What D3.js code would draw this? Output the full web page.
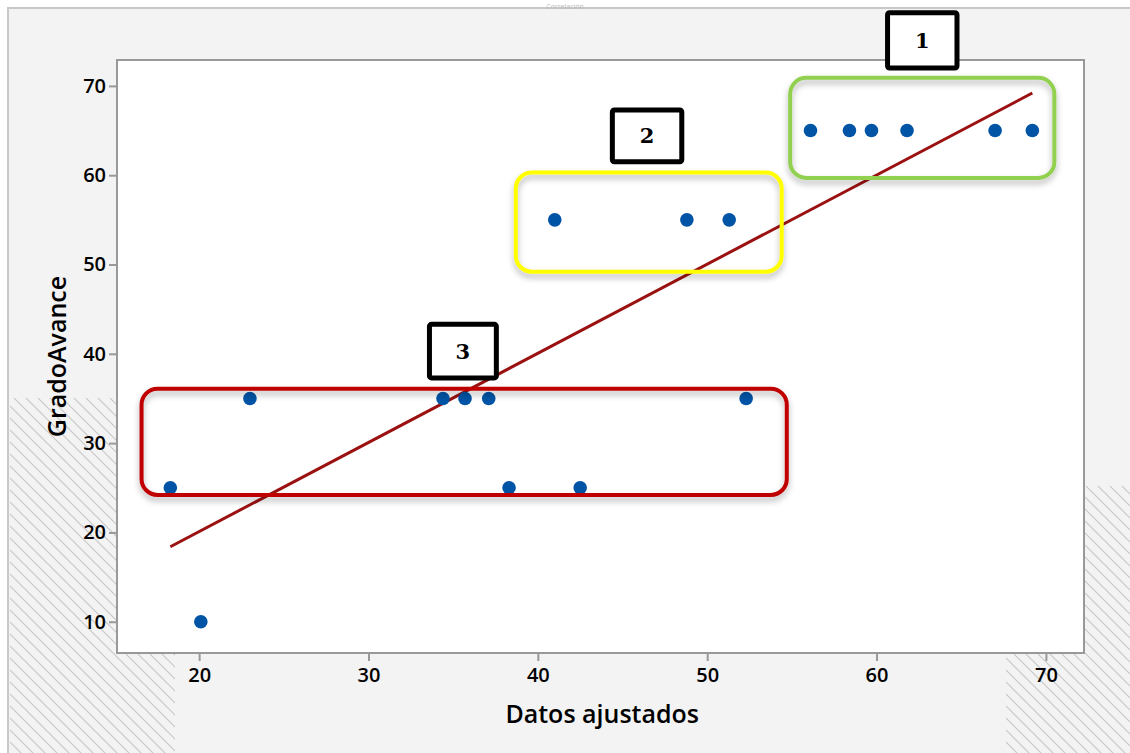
<!DOCTYPE html>
<html>
<head>
<meta charset="utf-8">
<script src="https://cdn.jsdelivr.net/npm/d3@7"></script>
<style>
  body { margin: 0; background: #fff; }
  svg text { font-family: "Open Sans", "Noto Sans", sans-serif; }
</style>
</head>
<body>
<svg id="chart" width="1130" height="753"></svg>
<script>
// fitted values vs observed progress
var fitted = [18.3, 20.1, 23.0, 34.4, 35.7, 37.1, 38.3, 42.5, 52.3, 41.0, 48.8, 51.3, 56.1, 58.4, 59.7, 61.8, 67.0, 69.2];
var grado  = [25, 10, 35, 35, 35, 35, 25, 25, 35, 55, 55, 55, 65, 65, 65, 65, 65, 65];
var fitLine = [[18.3, 18.4], [69.2, 69.2]];
var xTicks = [20, 30, 40, 50, 60, 70];
var yTicks = [10, 20, 30, 40, 50, 60, 70];

// group highlight boxes: [x0, x1, y0, y1, colour]
var groups = [
  [54.9, 70.5, 70.9, 59.7, "#92d050"],
  [38.7, 54.4, 60.3, 49.2, "#ffff00"],
  [16.6, 54.7, 36.1, 24.2, "#c00000"]
];
// numbered labels: [x0, x1, y0, y1, text]
var labels = [
  [60.65, 64.75, 78.2, 72.0, "1"],
  [44.4, 48.5, 67.3, 61.5, "2"],
  [33.6, 37.55, 43.3, 37.3, "3"]
];

var svg = d3.select("#chart");
var width = 1130, height = 753;

var defs = svg.append("defs");
var pat = defs.append("pattern").attr("id", "hatch")
  .attr("patternUnits", "userSpaceOnUse").attr("width", 12).attr("height", 12);
pat.append("path").attr("d", "M-3,-3 L15,15 M-3,9 L3,15 M9,-3 L15,3")
  .attr("stroke", "#c8c8c8").attr("stroke-width", 1.2);
var shadow = defs.append("filter").attr("id", "shadow")
  .attr("x", "-10%").attr("y", "-10%").attr("width", "120%").attr("height", "130%");
shadow.append("feDropShadow").attr("dx", 0).attr("dy", 4).attr("stdDeviation", 3)
  .attr("flood-color", "#000").attr("flood-opacity", 0.3);

// page background (scanned document look)
svg.append("rect").attr("x", 0).attr("y", 0).attr("width", width).attr("height", height).attr("fill", "#fff");
svg.append("rect").attr("x", 8).attr("y", 8).attr("width", width).attr("height", height)
  .attr("fill", "#f3f3f3").attr("stroke", "#c8c8c8").attr("stroke-width", 2);
svg.append("rect").attr("x", 10).attr("y", 398).attr("width", 165).attr("height", 360).attr("fill", "url(#hatch)");
svg.append("rect").attr("x", 1006).attr("y", 486).attr("width", 130).attr("height", 270).attr("fill", "url(#hatch)");
svg.append("text").attr("x", 565).attr("y", 9).attr("text-anchor", "middle")
  .style("font-size", "7px").attr("fill", "#bbb").text("Correlación");

var margin = {top: 60, right: 46, bottom: 100, left: 117};
var w = width - margin.left - margin.right,
    h = height - margin.top - margin.bottom;

var x = d3.scaleLinear().domain([15.15, 72.25]).range([0, w]);
var y = d3.scaleLinear().domain([6.5, 72.9]).range([h, 0]);

var g = svg.append("g").attr("transform", "translate(" + margin.left + "," + margin.top + ")");

g.append("rect").attr("width", w).attr("height", h).attr("fill", "#fff");

var xAxis = g.append("g").attr("transform", "translate(0," + h + ")")
  .call(d3.axisBottom(x).tickValues(xTicks).tickSize(8).tickPadding(7));
var yAxis = g.append("g")
  .call(d3.axisLeft(y).tickValues(yTicks).tickSize(8).tickPadding(3));
[xAxis, yAxis].forEach(function(a) {
  a.attr("font-size", null).attr("font-family", null);
  a.select(".domain").remove();
  a.selectAll("line").attr("stroke", "#999").attr("stroke-width", 2);
  a.selectAll("text").style("font-size", "20px").attr("fill", "#000")
    .style("font-weight", 600);
});

g.append("rect").attr("width", w).attr("height", h).attr("fill", "none")
  .attr("stroke", "#999").attr("stroke-width", 2);

// regression line
g.append("path").datum(fitLine)
  .attr("d", d3.line().x(function(d) { return x(d[0]); }).y(function(d) { return y(d[1]); }))
  .attr("stroke", "#9b1111").attr("stroke-width", 3).attr("fill", "none");

// points
g.selectAll("circle.pt").data(fitted).enter().append("circle")
  .attr("class", "pt")
  .attr("cx", function(d) { return x(d); })
  .attr("cy", function(d, i) { return y(grado[i]); })
  .attr("r", 6.8).attr("fill", "#0054a6");

// group boxes
g.selectAll("rect.grp").data(groups).enter().append("rect")
  .attr("class", "grp")
  .attr("x", function(d) { return x(d[0]); })
  .attr("y", function(d) { return y(d[2]); })
  .attr("width", function(d) { return x(d[1]) - x(d[0]); })
  .attr("height", function(d) { return y(d[3]) - y(d[2]); })
  .attr("rx", 16).attr("fill", "none")
  .attr("stroke", function(d) { return d[4]; }).attr("stroke-width", 4)
  .attr("filter", "url(#shadow)");

// numbered labels
var lab = g.selectAll("g.lab").data(labels).enter().append("g").attr("class", "lab");
lab.append("rect")
  .attr("x", function(d) { return x(d[0]); })
  .attr("y", function(d) { return y(d[2]); })
  .attr("width", function(d) { return x(d[1]) - x(d[0]); })
  .attr("height", function(d) { return y(d[3]) - y(d[2]); })
  .attr("rx", 2).attr("fill", "#fff").attr("stroke", "#000").attr("stroke-width", 5);
lab.append("text")
  .attr("x", function(d) { return (x(d[0]) + x(d[1])) / 2; })
  .attr("y", function(d) { return (y(d[2]) + y(d[3])) / 2; })
  .attr("dy", "0.36em").attr("text-anchor", "middle")
  .style("font-family", "'DejaVu Serif', 'Liberation Serif', serif")
  .attr("font-weight", "bold").attr("font-size", 21).attr("fill", "#000")
  .text(function(d) { return d[4]; });

// axis titles
svg.append("text").attr("x", margin.left + x(43.8)).attr("y", 723)
  .attr("text-anchor", "middle").style("font-size", "25px").style("font-weight", 600).attr("fill", "#000")
  .text("Datos ajustados");
svg.append("text").attr("transform", "translate(66," + (margin.top + y(39.7)) + ") rotate(-90)")
  .attr("text-anchor", "middle").style("font-size", "25px").style("font-weight", 600).attr("fill", "#000")
  .text("GradoAvance");
</script>
</body>
</html>
